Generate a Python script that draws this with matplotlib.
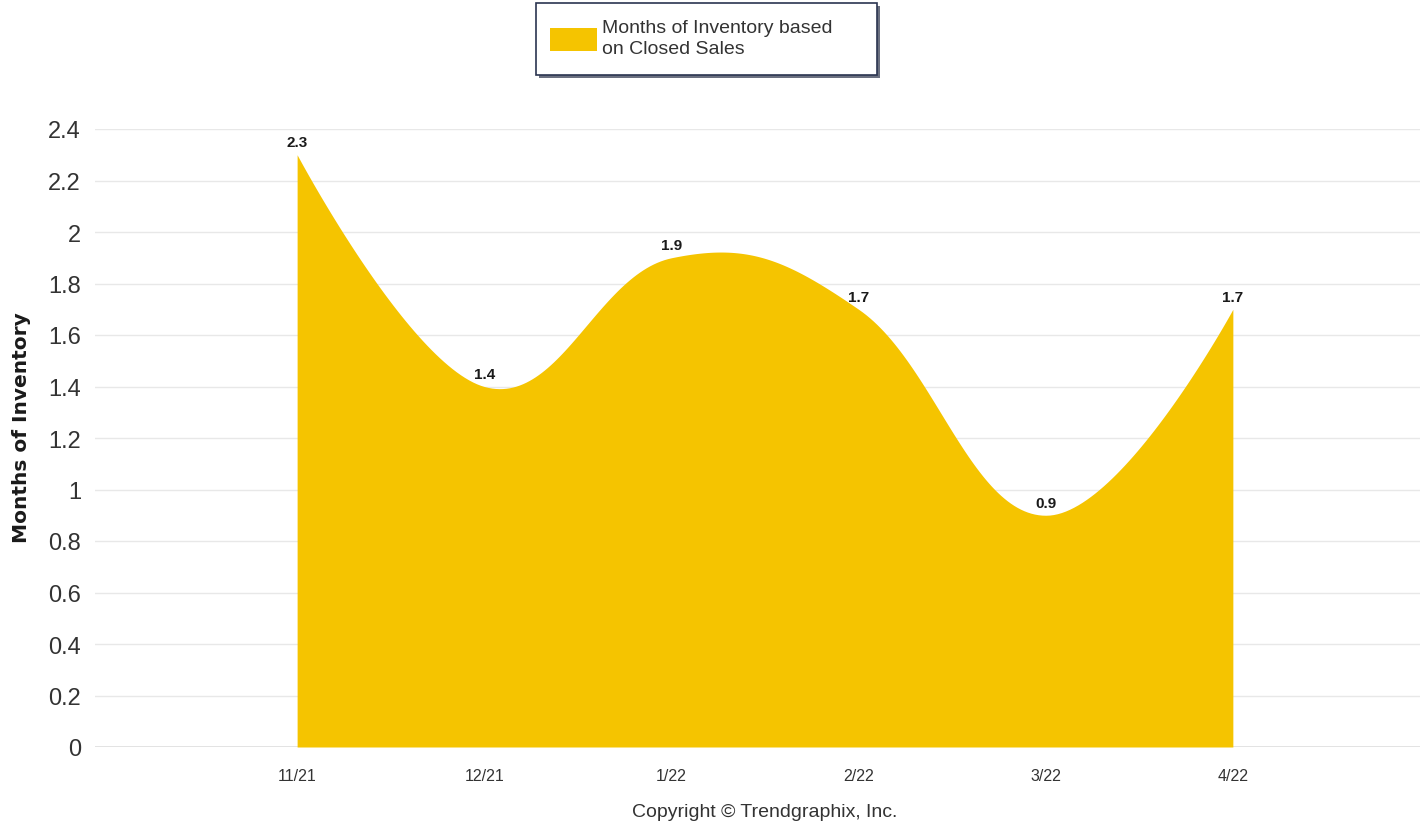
import numpy as np
import matplotlib
matplotlib.use('Agg')
import matplotlib.pyplot as plt
from matplotlib.patches import Rectangle

months = ['11/21', '12/21', '1/22', '2/22', '3/22', '4/22']
inventory = [2.3, 1.4, 1.9, 1.7, 0.9, 1.7]
labels = ['2.3', '1.4', '1.9', '1.7', '0.9', '1.7']
yticks = [0, 0.2, 0.4, 0.6, 0.8, 1, 1.2, 1.4, 1.6, 1.8, 2, 2.2, 2.4]
ytick_labels = ['0', '0.2', '0.4', '0.6', '0.8', '1', '1.2', '1.4', '1.6', '1.8', '2', '2.2', '2.4']

gold = '#f5c400'
font = 'Liberation Sans'


def spline(xs, ys, n=60, smoothing=1.5):
  # highcharts-like spline through points (no clamping, so peaks can overshoot)
  pts = list(zip(xs, ys))
  cl = [None] * len(pts)
  cr = [None] * len(pts)
  for i in range(1, len(pts) - 1):
    lx, ly = pts[i - 1]
    px, py = pts[i]
    nx, ny = pts[i + 1]
    d = smoothing + 1
    lcx = (smoothing * px + lx) / d
    lcy = (smoothing * py + ly) / d
    rcx = (smoothing * px + nx) / d
    rcy = (smoothing * py + ny) / d
    corr = (rcy - lcy) * (rcx - px) / (rcx - lcx) + py - rcy
    cl[i] = (lcx, lcy + corr)
    cr[i] = (rcx, rcy + corr)
  outx, outy = [xs[0]], [ys[0]]
  t = np.linspace(0, 1, n)[1:]
  for i in range(1, len(pts)):
    p0 = np.array(pts[i - 1])
    p3 = np.array(pts[i])
    p1 = np.array(cr[i - 1]) if cr[i - 1] is not None else p0
    p2 = np.array(cl[i]) if cl[i] is not None else p3
    seg = ((1 - t) ** 3)[:, None] * p0 + (3 * (1 - t) ** 2 * t)[:, None] * p1 + \
          (3 * (1 - t) * t ** 2)[:, None] * p2 + (t ** 3)[:, None] * p3
    outx.extend(seg[:, 0]); outy.extend(seg[:, 1])
  return np.array(outx), np.array(outy)


fig = plt.figure(figsize=(14.27, 8.28), dpi=100)
W, H = 1427, 828
ax = fig.add_axes([95 / W, 1 - 748 / H, (1420 - 95) / W, (748 - 130) / H])

x = np.arange(len(months))
sx, sy = spline(x, inventory)
ax.fill_between(sx, 0, sy, color=gold, lw=0, zorder=2)

for xi, yi, lab in zip(x, inventory, labels):
  ax.annotate(lab, (xi, yi), xytext=(0, 4), textcoords='offset points',
              ha='center', va='bottom', fontsize=11, fontweight='bold',
              family=font, color='#1a1a1a', zorder=4)

ax.set_xlim(-1.08, 6.0)
ax.set_ylim(0, 2.4)
ax.set_yticks(yticks)
ax.set_yticklabels(ytick_labels, fontsize=17, family=font, color='#333333')
ax.set_xticks(x)
ax.set_xticklabels(months, fontsize=11.5, family=font, color='#333333')
ax.tick_params(length=0)
ax.tick_params(axis='x', pad=15)
ax.tick_params(axis='y', pad=10)
ax.grid(axis='y', color='#e8e8e8', lw=1, zorder=0)
for s in ax.spines.values():
  s.set_visible(False)
ax.axhline(0, color='#dddddd', lw=1.2, zorder=1)

fig.text(22 / W, 1 - 428 / H, 'Months of Inventory', rotation=90,
         ha='center', va='center', fontsize=14.5, fontweight='bold',
         family='DejaVu Sans', color='#1a1a1a')
fig.text(765 / W, 1 - 813 / H, 'Copyright \u00a9 Trendgraphix, Inc.',
         ha='center', va='center', fontsize=14, family=font, color='#333333')

# legend box with shadow
shadow = Rectangle(((536 + 3) / W, 1 - (76 + 3) / H), 341 / W, 72 / H,
                   transform=fig.transFigure, facecolor='#6b7080', edgecolor='none', zorder=1)
box = Rectangle((536 / W, 1 - 76 / H), 341 / W, 72 / H, transform=fig.transFigure,
                facecolor='white', edgecolor='#2b3550', lw=1.2, zorder=2)
fig.patches.extend([shadow, box])
fig.patches.append(Rectangle((550 / W, 1 - 52 / H), 47 / W, 23 / H, transform=fig.transFigure,
                             facecolor=gold, edgecolor='none', zorder=3))
fig.text(602 / W, 1 - 39 / H, 'Months of Inventory based\non Closed Sales', ha='left', va='center',
         fontsize=14, family=font, color='#333333', linespacing=1.35, zorder=4)

plt.savefig('out.png', dpi=100)
